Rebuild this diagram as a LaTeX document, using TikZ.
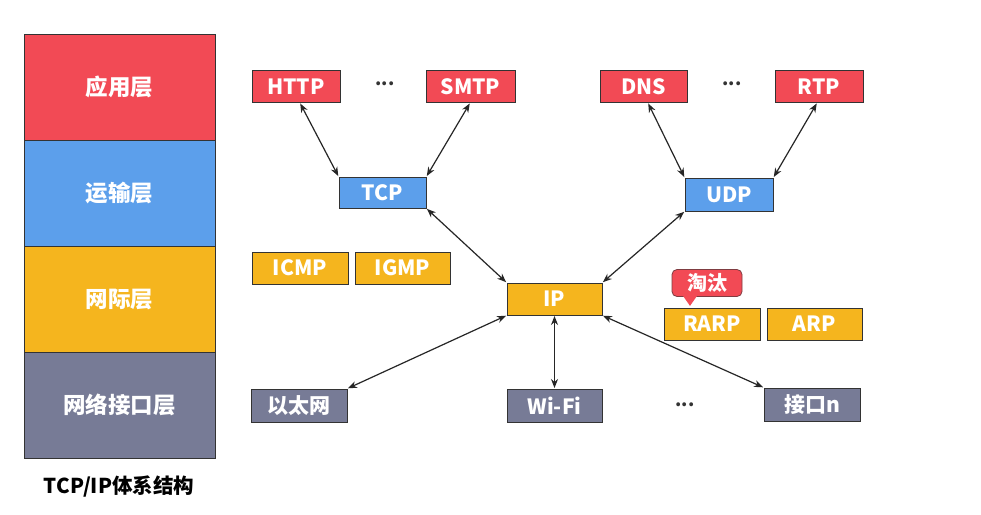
\documentclass[tikz,border=0pt]{standalone}
\usepackage{fontspec}
\setmainfont{Noto Sans CJK SC}
\usetikzlibrary{arrows.meta}
\definecolor{cred}{HTML}{F24A55}
\definecolor{cblue}{HTML}{5C9FEB}
\definecolor{cyel}{HTML}{F5B51E}
\definecolor{cgray}{HTML}{777B96}
\definecolor{cedge}{HTML}{333333}
\tikzset{
  layer/.style={draw=cedge, line width=0.8pt, minimum width=191pt, minimum height=106pt, inner sep=0pt, text=white, font=\fontsize{22.5}{22.5}\selectfont\bfseries},
  proto/.style={draw=cedge, line width=1pt, minimum height=32pt, inner sep=0pt, text=white, font=\fontsize{21}{21}\selectfont\bfseries},
  link/.style={line width=1.2pt, draw=black!85, {Stealth[length=9pt,width=7pt]}-{Stealth[length=9pt,width=7pt]}, shorten <=0.5pt, shorten >=0.5pt},
  dots/.style={font=\fontsize{18}{18}\selectfont\bfseries, text=black!80}
}
\begin{document}
\begin{tikzpicture}[x=1pt,y=-1pt]
\useasboundingbox[fill=white] (0,0) rectangle (981,514);
% layers
\node[layer, fill=cred]  (app)  at (119.5,87)  {应用层};
\node[layer, fill=cblue] (tra)  at (119.5,193) {运输层};
\node[layer, fill=cyel]  (net)  at (119.5,299) {网际层};
\node[layer, fill=cgray] (lnk)  at (119.5,405) {网络接口层};
\node[font=\fontsize{20.5}{20.5}\selectfont\bfseries] (title) at (119,487) {TCP/IP体系结构};
% application
\node[proto, fill=cred, minimum width=88pt] (http) at (296,86.5) {HTTP};
\node[proto, fill=cred, minimum width=89pt] (smtp) at (470.5,86.5) {SMTP};
\node[proto, fill=cred, minimum width=87pt] (dns)  at (643.5,86.5) {DNS};
\node[proto, fill=cred, minimum width=88pt] (rtp)  at (819,86.5) {RTP};
\node[dots] (d1) at (385,84) {...};
\node[dots] (d2) at (732,84) {...};
% transport
\node[proto, fill=cblue, minimum width=87pt, minimum height=31pt] (tcp) at (382.5,192.5) {TCP};
\node[proto, fill=cblue, minimum width=88pt, minimum height=33pt] (udp) at (729,194.5) {UDP};
% network
\node[proto, fill=cyel, minimum width=96pt] (icmp) at (300,268) {ICMP};
\node[proto, fill=cyel, minimum width=95pt] (igmp) at (402.5,268) {IGMP};
\node[proto, fill=cyel, minimum width=95pt] (ip)   at (554.5,299) {IP};
\node[proto, fill=cyel, minimum width=96pt] (rarp) at (712,324) {RARP};
\node[proto, fill=cyel, minimum width=95pt] (arp)  at (814.5,324) {ARP};
% callout
\node[draw=cedge!60!cred, line width=0.8pt, fill=cred, rounded corners=5pt, minimum width=70pt, minimum height=27pt, inner sep=0pt, text=white, font=\fontsize{20}{20}\selectfont\bfseries] (tt) at (707,283) {淘汰};
\fill[cred] ([xshift=-24pt,yshift=1pt]tt.south) -- ([xshift=-17pt,yshift=-9pt]tt.south) -- ([xshift=-10pt,yshift=1pt]tt.south) -- cycle;
% link
\node[proto, fill=cgray, minimum width=96pt, minimum height=33pt] (eth)  at (299,405.5) {以太网};
\node[proto, fill=cgray, minimum width=95pt, minimum height=33pt] (wifi) at (554.5,405.5) {Wi-Fi};
\node[proto, fill=cgray, minimum width=96pt, minimum height=33pt] (ifn)  at (812,404.5) {接口n};
\node[dots] (d3) at (685,405) {...};
% connectors
\draw[link] ([xshift=4pt]http.south) -- (tcp.north west);
\draw[link] ([xshift=-0.5pt]smtp.south) -- (tcp.north east);
\draw[link] ([xshift=4.5pt]dns.south) -- (udp.north west);
\draw[link] ([xshift=-2pt]rtp.south) -- (udp.north east);
\draw[link] (tcp.south east) -- (ip.north west);
\draw[link] (udp.south west) -- (ip.north east);
\draw[link] (ip.south west) -- (eth.north east);
\draw[link] (ip.south) -- (wifi.north);
\draw[link] (ip.south east) -- (ifn.north west);
\end{tikzpicture}
\end{document}
